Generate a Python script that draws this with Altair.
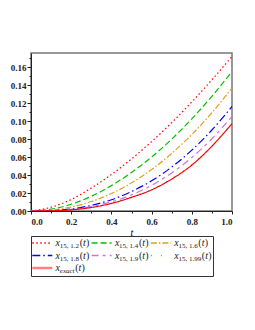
import altair as alt
import pandas as pd

t_vals = [0.0, 0.1, 0.2, 0.3, 0.4, 0.5, 0.6, 0.7, 0.8, 0.9, 1.0]
x_12 = [0.0, 0.0042, 0.0128, 0.0255, 0.0405, 0.0579, 0.0771, 0.0982, 0.1212, 0.1458, 0.1718]
x_14 = [0.0, 0.0020, 0.0075, 0.0163, 0.0282, 0.0428, 0.0600, 0.0799, 0.1024, 0.1275, 0.1550]
x_16 = [0.0, 0.0010, 0.0044, 0.0105, 0.0194, 0.0313, 0.0461, 0.0640, 0.0850, 0.1092, 0.1367]
x_18 = [0.0, 0.0004, 0.0023, 0.0062, 0.0125, 0.0216, 0.0336, 0.0488, 0.0676, 0.0900, 0.1162]
x_19 = [0.0, 0.0003, 0.0017, 0.0049, 0.0102, 0.0179, 0.0286, 0.0423, 0.0594, 0.0803, 0.1050]
x_199 = [0.0, 0.0002, 0.0013, 0.0040, 0.0085, 0.0155, 0.0240, 0.0360, 0.0515, 0.0725, 0.0980]
x_exact = [0.0, 0.0002, 0.0013, 0.0039, 0.0084, 0.0152, 0.0235, 0.0355, 0.0510, 0.0720, 0.0970]

subscripts = ["15, 1.2", "15, 1.4", "15, 1.6", "15, 1.8", "15, 1.9", "15, 1.99", "exact"]
labels = ["x_{" + s + "}(t)" for s in subscripts]
series = [x_12, x_14, x_16, x_18, x_19, x_199, x_exact]
colors = ["#ff0000", "#00c000", "#e0a020", "#0000ff", "#d070e0", "#00d0d0", "#ff0000"]
dashes = [[1.5, 2.5], [6, 3], [6, 2, 1.5, 2], [8, 3, 1.5, 3], [7, 4, 3, 4], [1, 9], [1, 0]]

rows = []
for i, (lab, vals) in enumerate(zip(labels, series)):
    for t, v in zip(t_vals, vals):
        rows.append({"series": lab, "t": t, "value": v, "k": i})
df = pd.DataFrame(rows)

font = "Liberation Serif"
xscale = alt.Scale(domain=[0, 1], nice=False)
yscale = alt.Scale(domain=[0, 0.1756], nice=False)
color_scale = alt.Scale(domain=labels, range=colors)
dash_scale = alt.Scale(domain=labels, range=dashes)

lines = alt.Chart(df).mark_line(strokeWidth=1.2, clip=True, interpolate="monotone").encode(
    x=alt.X("t:Q", scale=xscale,
            axis=alt.Axis(values=[0, 0.2, 0.4, 0.6, 0.8, 1.0], format=".1f", title="t",
                          titleFont=font, titleFontStyle="italic", titleFontWeight="normal",
                          titleFontSize=10, titlePadding=1, labelFont=font, labelFontSize=9,
                          labelFontWeight="bold", labelColor="#222222", tickSize=3,
                          tickColor="#222222", domainColor="#222222", grid=False,
                          orient="bottom", labelPadding=3)),
    y=alt.Y("value:Q", scale=yscale,
            axis=alt.Axis(values=[0, 0.02, 0.04, 0.06, 0.08, 0.10, 0.12, 0.14, 0.16],
                          format=".2f", title=None, labelFont=font, labelFontSize=9,
                          labelFontWeight="bold", labelColor="#222222", tickSize=4,
                          tickColor="#222222", domainColor="#222222", grid=False,
                          orient="left", labelPadding=1)),
    color=alt.Color("series:N", scale=color_scale, legend=None),
    strokeDash=alt.StrokeDash("series:N", scale=dash_scale, legend=None),
    order=alt.Order("k:Q"),
)

minor = alt.Chart(df).mark_point(opacity=0).encode(
    x=alt.X("t:Q", scale=xscale,
            axis=alt.Axis(values=[0.1, 0.3, 0.5, 0.7, 0.9], labels=False, title=None,
                          tickSize=2, tickColor="#222222", domain=False, grid=False,
                          orient="bottom")),
    y=alt.Y("value:Q", scale=yscale,
            axis=alt.Axis(values=[0.01, 0.03, 0.05, 0.07, 0.09, 0.11, 0.13, 0.15, 0.17],
                          labels=False, title=None, tickSize=2, tickColor="#222222",
                          domain=False, grid=False, orient="left")),
)

plot = alt.layer(lines, minor).resolve_axis(x="independent", y="independent").properties(
    width=201, height=158)

# ---- legend (built from marks so the subscripts can be typeset) ----
char_w = {"1": 3.5, "2": 3.5, "4": 3.5, "5": 3.5, "6": 3.5, "8": 3.5, "9": 3.5,
          ",": 1.75, " ": 1.75, ".": 1.75, "e": 3.1, "x": 3.1, "a": 3.5, "c": 3.1, "t": 1.95}
col_w, row_h, row0 = 59.3, 12.5, 7.0
leg_rows = []
for i, (lab, sub) in enumerate(zip(labels, subscripts)):
    c, r = i % 3, i // 3
    x0 = 1.3 + c * col_w
    sub_w = sum(char_w.get(ch, 3.5) for ch in sub)
    px = x0 + 27.5 + sub_w + 0.6
    leg_rows.append({"series": lab, "k": i, "sx": x0, "sx2": x0 + 20, "tx": x0 + 23.3,
                     "subx": x0 + 27.5, "sub": sub, "px": px, "tpx": px + 3.4,
                     "cpx": px + 6.4, "cy": row0 + r * row_h})
ldf = pd.DataFrame(leg_rows)

lx = alt.Scale(domain=[0, 182], nice=False, zero=False)
ly = alt.Scale(domain=[0, 40], nice=False, zero=False, reverse=True)
lbase = alt.Chart(ldf)
X = lambda f: alt.X(f + ":Q", scale=lx, axis=None)
Y = alt.Y("cy:Q", scale=ly, axis=None)

sym = lbase.mark_rule().encode(
    x=X("sx"), x2="sx2:Q", y=Y,
    color=alt.Color("series:N", scale=color_scale, legend=None),
    strokeDash=alt.StrokeDash("series:N", scale=dash_scale, legend=None),
    strokeWidth=alt.condition("datum.k == 6", alt.value(2.6), alt.value(1.4)),
    opacity=alt.condition("datum.k == 6", alt.value(0.5), alt.value(1)),
)
tx = lbase.mark_text(align="left", baseline="middle", font=font, fontSize=10,
                     fontStyle="italic", color="#222222").encode(
    x=X("tx"), y=Y, text=alt.value("x"))
sub_n = lbase.transform_filter("datum.k < 6").mark_text(
    align="left", baseline="middle", font=font, fontSize=7, dy=3, color="#222222").encode(
    x=X("subx"), y=Y, text="sub:N")
sub_i = lbase.transform_filter("datum.k == 6").mark_text(
    align="left", baseline="middle", font=font, fontSize=7, dy=3, fontStyle="italic",
    color="#222222").encode(x=X("subx"), y=Y, text="sub:N")
po = lbase.mark_text(align="left", baseline="middle", font=font, fontSize=10,
                     color="#222222").encode(x=X("px"), y=Y, text=alt.value("("))
pt = lbase.mark_text(align="left", baseline="middle", font=font, fontSize=10,
                     fontStyle="italic", color="#222222").encode(x=X("tpx"), y=Y, text=alt.value("t"))
pc = lbase.mark_text(align="left", baseline="middle", font=font, fontSize=10,
                     color="#222222").encode(x=X("cpx"), y=Y, text=alt.value(")"))

legend = alt.layer(sym, tx, sub_n, sub_i, po, pt, pc).properties(
    width=182, height=40, view=alt.ViewBackground(stroke="#333333", strokeWidth=1))

chart = alt.vconcat(plot, legend, spacing=25, bounds="flush").properties(
    padding={"left": 1, "top": 44, "right": 5, "bottom": 5},
).configure_view(stroke="#777777", strokeWidth=1.5)

chart.save("out.html", embed_options={"renderer": "svg", "actions": False})
